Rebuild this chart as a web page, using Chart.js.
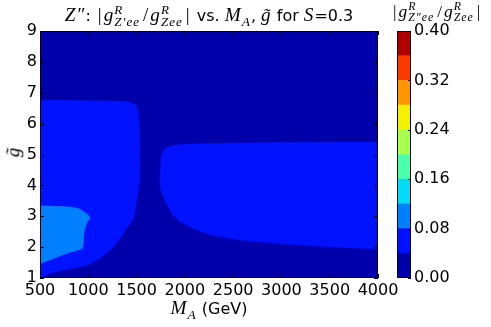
<!DOCTYPE html>
<html>
<head>
<meta charset="utf-8">
<script src="https://cdn.jsdelivr.net/npm/chart.js@4"></script>
<style>
  body { margin: 0; background: #fff; }
  #wrap { position: relative; width: 491px; height: 327px; overflow: hidden; font-family: "DejaVu Sans", sans-serif; color: #000; }
  canvas { position: absolute; top: 0; }
  .lbl { position: absolute; white-space: nowrap; font-size: 16px; }
  .m { font-family: "Liberation Serif", serif; font-style: italic; font-size: 1.2em; letter-spacing: 1px; }
  .up { font-family: "Liberation Serif", serif; font-style: normal; font-size: 1.2em; margin: 0 2px; }
  .ss { display: inline-block; vertical-align: -0.42em; font-size: 0.68em; line-height: 0.92; text-align: left; margin-right: 1px; }
  .ss span { display: block; }
</style>
</head>
<body>
<div id="wrap">
  <canvas id="main" width="491" height="327" style="left:0"></canvas>
  <canvas id="cbar" width="111" height="327" style="left:380px"></canvas>

  <div class="lbl" id="title" style="left:0; width:418px; text-align:center; top:4px;">
    <span class="m">Z″</span>: <span class="up">|</span><span class="m">g</span><span class="ss"><span class="m">R</span><span class="m">Z′ee</span></span><span class="up">/</span><span class="m">g</span><span class="ss"><span class="m">R</span><span class="m">Zee</span></span><span class="up">|</span> vs. <span class="m">M<sub style="font-size:0.7em">A</sub></span>, <span class="m">g̃</span> for <span class="m">S</span>=0.3
  </div>

  <div class="lbl" style="left:391px; top:1px; font-size:14.5px;">
    <span class="up">|</span><span class="m">g</span><span class="ss"><span class="m">R</span><span class="m">Z″ee</span></span><span class="up">/</span><span class="m">g</span><span class="ss"><span class="m">R</span><span class="m">Zee</span></span><span class="up">|</span>
  </div>

  <div class="lbl" style="left:0; width:418px; text-align:center; top:297px;">
    <span class="m">M<sub style="font-size:0.7em">A</sub></span> (GeV)
  </div>

  <div class="lbl" style="left:8px; top:141px; transform:rotate(-90deg);">
    <span class="m">g̃</span>
  </div>
</div>

<script>
// contour levels and jet colours (one colour per band)
const levels = [0, 0.04, 0.08, 0.12, 0.16, 0.20, 0.24, 0.28, 0.32, 0.36, 0.40];
const bandColors = ['#0000aa', '#0012ff', '#0080ff', '#00dcf8', '#4cffaa', '#a8ff4e', '#f5f000', '#ff9600', '#ff3a00', '#b00000'];
const cbTicks = [0, 0.08, 0.16, 0.24, 0.32, 0.40];

// axis ranges
const xRange = [500, 4000];
const yRange = [1, 9];

// band 0.00-0.04 covers the whole plane
const band0 = [[500, 1], [4000, 1], [4000, 9], [500, 9]];

// band 0.04-0.08, left region (M_A, g~)
const band1Left = [
  [500, 6.75], [900, 6.74], [1300, 6.72], [1411, 6.7], [1480, 6.63], [1504, 6.54],
  [1520, 6.2], [1528, 5.8], [1530, 5.0], [1528, 4.18], [1515, 3.8], [1500, 3.53],
  [1466, 2.94], [1420, 2.7], [1362, 2.45], [1259, 2.01], [1121, 1.64], [983, 1.42],
  [850, 1.32], [707, 1.24], [600, 1.16], [552, 1.1], [500, 1.02]
];

// band 0.04-0.08, right region
const band1Right = [
  [4000, 5.39], [3000, 5.38], [2500, 5.36], [2156, 5.34], [1949, 5.31], [1880, 5.28],
  [1810, 5.22], [1777, 5.1], [1759, 4.94], [1750, 4.5], [1742, 4.07], [1760, 3.8],
  [1794, 3.53], [1830, 3.3], [1880, 3.04], [1949, 2.85], [2018, 2.72], [2156, 2.53],
  [2294, 2.39], [2600, 2.23], [2984, 2.12], [3500, 2.02], [4000, 1.94]
];

// band 0.08-0.12
const band2 = [
  [500, 3.33], [650, 3.32], [810, 3.29], [900, 3.24], [948, 3.15], [1000, 3.03],
  [1017, 2.94], [990, 2.82], [976, 2.72], [962, 2.6], [955, 2.45], [948, 2.2],
  [938, 1.96], [860, 1.88], [776, 1.8], [650, 1.65], [500, 1.47]
];

const regions = [
  { pts: band0, band: 0 },
  { pts: band1Left, band: 1 },
  { pts: band1Right, band: 1 },
  { pts: band2, band: 2 }
];

const tickFont = { family: 'DejaVu Sans', size: 16 };

// frame and inward ticks like matplotlib
const frameTicks = {
  id: 'frameTicks',
  afterDatasetsDraw(chart) {
    const { ctx, chartArea: a, scales } = chart;
    ctx.save();
    ctx.strokeStyle = '#000';
    ctx.lineWidth = 1;
    ctx.beginPath();
    scales.x.ticks.forEach(t => {
      const px = Math.round(scales.x.getPixelForValue(t.value)) + 0.5;
      ctx.moveTo(px, a.bottom); ctx.lineTo(px, a.bottom - 4);
      ctx.moveTo(px, a.top); ctx.lineTo(px, a.top + 4);
    });
    scales.y.ticks.forEach(t => {
      const py = Math.round(scales.y.getPixelForValue(t.value)) + 0.5;
      ctx.moveTo(a.left, py); ctx.lineTo(a.left + 4, py);
      ctx.moveTo(a.right, py); ctx.lineTo(a.right - 4, py);
    });
    ctx.stroke();
    ctx.strokeRect(a.left + 0.5, a.top + 0.5, a.right - a.left - 1, a.bottom - a.top - 1);
    ctx.restore();
  }
};

new Chart(document.getElementById('main'), {
  type: 'scatter',
  data: {
    datasets: regions.map((r, i) => ({
      data: r.pts.map(([x, y]) => ({ x, y })),
      showLine: true,
      fill: 'shape',
      backgroundColor: bandColors[r.band],
      borderColor: bandColors[r.band],
      borderWidth: 1,
      pointRadius: 0,
      tension: 0.15,
      order: regions.length - i   // later regions on top
    }))
  },
  options: {
    responsive: false,
    animation: false,
    layout: { padding: { top: 31, right: 113, left: 0, bottom: 0 } },
    plugins: { legend: { display: false }, tooltip: { enabled: false } },
    scales: {
      x: {
        type: 'linear', min: xRange[0], max: xRange[1],
        grid: { display: false, drawTicks: false }, border: { display: false },
        ticks: { stepSize: 500, autoSkip: false, maxRotation: 0, font: tickFont, color: '#000', padding: 3, callback: v => String(v) },
        afterFit: s => { s.height = 49; }
      },
      y: {
        type: 'linear', min: yRange[0], max: yRange[1],
        grid: { display: false, drawTicks: false }, border: { display: false },
        ticks: { stepSize: 1, font: tickFont, color: '#000', padding: 3 },
        afterFit: s => { s.width = 40; }
      }
    }
  },
  plugins: [frameTicks]
});

// colour bar
const cbFrame = {
  id: 'cbFrame',
  afterDatasetsDraw(chart) {
    const { ctx, chartArea: a, scales } = chart;
    ctx.save();
    ctx.strokeStyle = '#000';
    ctx.lineWidth = 1;
    ctx.strokeRect(a.left + 0.5, a.top + 0.5, a.right - a.left - 1, a.bottom - a.top - 1);
    ctx.beginPath();
    scales.y.ticks.forEach(t => {
      const py = Math.round(scales.y.getPixelForValue(t.value)) + 0.5;
      ctx.moveTo(a.right, py); ctx.lineTo(a.right - 3, py);
    });
    ctx.stroke();
    ctx.restore();
  }
};

new Chart(document.getElementById('cbar'), {
  type: 'bar',
  data: {
    labels: ['c'],
    datasets: bandColors.map((c, i) => ({
      data: [[levels[i], levels[i + 1]]],
      backgroundColor: c,
      borderWidth: 0,
      barPercentage: 1,
      categoryPercentage: 1,
      grouped: false
    }))
  },
  options: {
    responsive: false,
    animation: false,
    layout: { padding: { top: 31, left: 17, right: 0, bottom: 49 } },
    plugins: { legend: { display: false }, tooltip: { enabled: false } },
    scales: {
      x: { display: false },
      y: {
        position: 'right', min: 0, max: 0.4,
        grid: { display: false, drawTicks: false }, border: { display: false },
        afterBuildTicks: s => { s.ticks = cbTicks.map(v => ({ value: v })); },
        ticks: { font: tickFont, color: '#000', padding: 3, callback: v => v.toFixed(2) },
        afterFit: s => { s.width = 80; }
      }
    }
  },
  plugins: [cbFrame]
});
</script>
</body>
</html>
